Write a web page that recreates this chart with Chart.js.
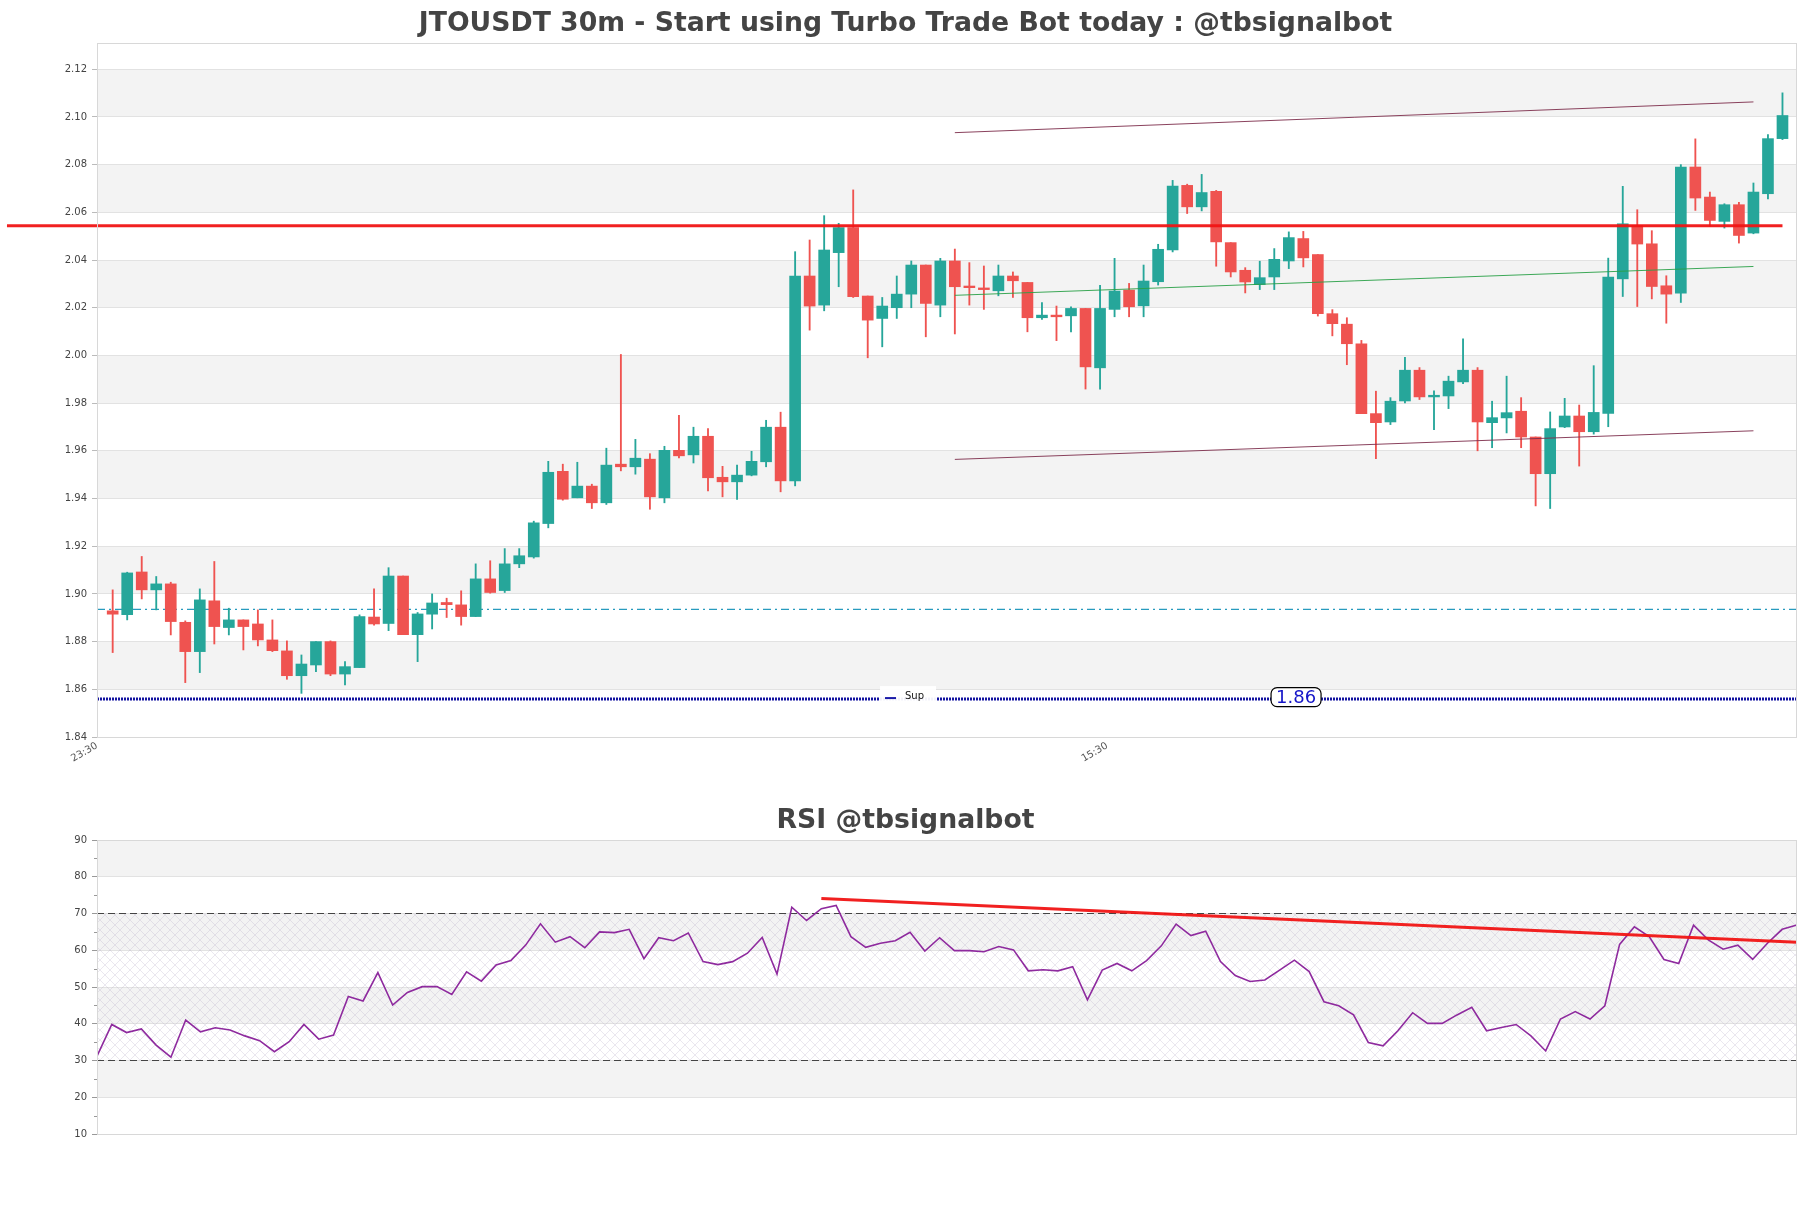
<!DOCTYPE html>
<html><head><meta charset="utf-8">
<script src="https://cdn.jsdelivr.net/npm/chart.js@4.4.1/dist/chart.umd.min.js"></script>
<style>
html,body{margin:0;padding:0;background:#fff;}
#wrap{position:relative;width:1811px;height:1208px;background:#fff;}
canvas{position:absolute;left:0;}
</style></head><body>
<div id="wrap">
<canvas id="main" width="1811" height="790" style="top:0px"></canvas>
<canvas id="rsi" width="1811" height="418" style="top:790px"></canvas>
</div>
<script>
// ---------------- DATA ----------------
const chartTitle = 'JTOUSDT 30m - Start using Turbo Trade Bot today : @tbsignalbot';
const rsiTitle = 'RSI @tbsignalbot';

const opens = [1.8929,1.8913,1.9092,1.9017,1.9042,1.8881,1.8758,1.8971,1.8859,1.8891,1.8874,1.8807,1.8761,1.8657,1.8702,1.8800,1.8664,1.8691,1.8903,1.8876,
1.9075,1.8829,1.8915,1.8964,1.8954,1.8905,1.9063,1.9014,1.9126,1.9155,1.9295,1.9514,1.9403,1.9452,1.9382,1.9544,1.9533,1.9565,1.9403,1.9602,
1.9583,1.9661,1.9489,1.9470,1.9498,1.9554,1.9699,1.9474,2.0333,2.0211,2.0431,2.0536,2.0249,2.0155,2.0200,2.0257,2.0379,2.0211,2.0396,2.0291,
2.0283,2.0271,2.0333,2.0306,2.0158,2.0169,2.0166,2.0197,1.9948,2.0193,2.0274,2.0208,2.0309,2.0442,2.0713,2.0623,2.0688,2.0473,2.0357,2.0297,
2.0329,2.0396,2.0490,2.0423,2.0175,2.0131,2.0049,1.9756,1.9721,1.9809,1.9938,1.9826,1.9830,1.9889,1.9938,1.9718,1.9738,1.9766,1.9658,1.9504,
1.9700,1.9746,1.9680,1.9757,2.0321,2.0545,2.0468,2.0292,2.0261,2.0790,2.0664,2.0562,2.0632,2.0513,2.0678,2.0909];
const highs = [1.9017,1.9091,1.9157,1.9073,1.9049,1.8887,1.9021,1.9136,1.8940,1.8891,1.8933,1.8891,1.8803,1.8744,1.8800,1.8803,1.8716,1.8912,1.9021,1.9110,
1.9075,1.8922,1.9000,1.8982,1.9013,1.9126,1.9139,1.9190,1.9190,1.9305,1.9556,1.9544,1.9552,1.9460,1.9611,2.0004,1.9648,1.9588,1.9619,1.9749,
1.9699,1.9693,1.9535,1.9540,1.9598,1.9728,1.9762,2.0435,2.0484,2.0586,2.0554,2.0694,2.0249,2.0243,2.0333,2.0396,2.0379,2.0407,2.0446,2.0389,
2.0375,2.0379,2.0350,2.0306,2.0222,2.0207,2.0204,2.0197,2.0294,2.0407,2.0302,2.0379,2.0466,2.0734,2.0718,2.0759,2.0692,2.0473,2.0368,2.0395,
2.0448,2.0518,2.0520,2.0423,2.0192,2.0158,2.0063,1.9850,1.9823,1.9992,1.9949,1.9851,1.9913,2.0070,1.9949,1.9808,1.9913,1.9823,1.9658,1.9763,
1.9820,1.9792,1.9957,2.0408,2.0709,2.0611,2.0523,2.0334,2.0800,2.0908,2.0685,2.0636,2.0642,2.0723,2.0926,2.1101];
const lows = [1.8754,1.8891,1.8979,1.8933,1.8828,1.8628,1.8670,1.8790,1.8828,1.8765,1.8782,1.8758,1.8642,1.8583,1.8674,1.8657,1.8618,1.8691,1.8869,1.8846,
1.8829,1.8716,1.8853,1.8901,1.8869,1.8905,1.9003,1.9006,1.9110,1.9150,1.9277,1.9393,1.9403,1.9358,1.9375,1.9516,1.9502,1.9355,1.9382,1.9570,
1.9549,1.9432,1.9407,1.9396,1.9495,1.9533,1.9428,1.9453,2.0106,2.0187,2.0288,2.0243,1.9990,2.0036,2.0155,2.0200,2.0078,2.0162,2.0090,2.0211,
2.0193,2.0250,2.0243,2.0099,2.0151,2.0062,2.0099,1.9859,1.9859,2.0162,2.0162,2.0162,2.0295,2.0434,2.0595,2.0606,2.0374,2.0329,2.0262,2.0276,
2.0276,2.0364,2.0371,2.0165,2.0082,1.9961,1.9756,1.9567,1.9710,1.9801,1.9815,1.9689,1.9777,1.9882,1.9600,1.9613,1.9675,1.9613,1.9369,1.9358,
1.9697,1.9536,1.9670,1.9701,2.0247,2.0205,2.0237,2.0135,2.0222,2.0608,2.0541,2.0534,2.0471,2.0510,2.0656,2.0905];
const closes = [1.8915,1.9088,1.9017,1.9042,1.8884,1.8758,1.8975,1.8863,1.8891,1.8863,1.8807,1.8762,1.8657,1.8706,1.8800,1.8664,1.8695,1.8905,1.8874,1.9075,
1.8829,1.8916,1.8962,1.8955,1.8905,1.9063,1.9006,1.9126,1.9160,1.9298,1.9510,1.9397,1.9452,1.9382,1.9540,1.9533,1.9569,1.9407,1.9602,1.9579,
1.9661,1.9487,1.9470,1.9498,1.9556,1.9699,1.9474,2.0333,2.0207,2.0442,2.0536,2.0246,2.0148,2.0207,2.0257,2.0379,2.0218,2.0396,2.0288,2.0284,
2.0276,2.0333,2.0313,2.0158,2.0169,2.0162,2.0197,1.9952,2.0197,2.0270,2.0204,2.0312,2.0445,2.0710,2.0623,2.0683,2.0476,2.0350,2.0308,2.0326,
2.0403,2.0494,2.0409,2.0175,2.0133,2.0049,1.9756,1.9718,1.9808,1.9938,1.9826,1.9833,1.9892,1.9938,1.9721,1.9739,1.9760,1.9658,1.9504,1.9693,
1.9746,1.9680,1.9761,2.0328,2.0552,2.0467,2.0289,2.0257,2.0790,2.0660,2.0566,2.0632,2.0503,2.0685,2.0909,2.1006];

const rsiValues = [31.2,39.8,37.6,38.6,34.2,30.9,41.0,37.8,38.9,38.3,36.7,35.4,32.4,35.1,39.8,35.8,36.9,47.4,46.2,53.9,
45.1,48.5,50.1,50.1,48.0,54.1,51.6,56.0,57.2,61.4,67.2,62.2,63.7,60.7,65.0,64.8,65.7,57.7,63.4,62.6,
64.7,56.9,56.1,56.9,59.2,63.5,53.5,71.7,68.1,71.3,72.2,63.7,60.8,61.9,62.6,64.9,59.8,63.4,59.9,59.9,
59.6,61.0,60.1,54.4,54.7,54.4,55.5,46.5,54.6,56.4,54.4,57.2,61.2,67.1,64.0,65.2,56.9,53.1,51.5,51.9,
54.6,57.3,54.2,46.0,44.9,42.4,34.9,34.0,38.1,43.0,40.1,40.1,42.4,44.5,38.1,39.0,39.8,36.7,32.6,41.3,
43.3,41.3,44.9,61.6,66.4,63.7,57.5,56.4,66.8,62.8,60.3,61.4,57.5,61.9,65.7,66.9];

const xTickLabels = ['23:30', '15:30'];
const xTickValues = [-1.08, 68.5];

const resistanceLevel = 2.0544;          // thick red level
const resistanceFrom = -7.28, resistanceTo = 115;
const pivotLevel = 1.8935;               // dashed teal
const supportLevel = 1.8559;             // dotted blue "Sup"
const supportText = '1.86';
const channelX = [58, 113];
const channelUpper = [2.0934, 2.1063];
const channelMid = [2.0252, 2.0373];
const channelLower = [1.9564, 1.9684];
const rsiTrendX = [49, 115];
const rsiTrendY = [74.1, 62.2];
const rsiUpper = 70, rsiLower = 30;

// ---------------- STYLE ----------------
Chart.defaults.font.family = '"DejaVu Sans", "Liberation Sans", sans-serif';
Chart.defaults.color = '#444';
const GREEN = '#26a69a', RED = '#ef5350';
const BAND = '#f3f3f3', GRID = '#e2e2e2', FRAME = '#d8d8d8';

const idx = opens.map((_, i) => i);
const candleColors = idx.map(i => closes[i] >= opens[i] ? GREEN : RED);
const X_MIN = -1.08, X_MAX = 116;

function bandsPlugin(id, title, titleY) {
  return {
    id,
    beforeDraw(chart) {
      const {ctx, chartArea: a, scales: {y}} = chart;
      ctx.save();
      ctx.fillStyle = '#fff';
      ctx.fillRect(0, 0, chart.width, chart.height);
      const ticks = y.ticks.map(t => t.value);
      ctx.fillStyle = BAND;
      for (let k = 0; k < ticks.length - 1; k++) {
        if (k % 2 === 1) {
          const y0 = y.getPixelForValue(ticks[k]), y1 = y.getPixelForValue(ticks[k + 1]);
          ctx.fillRect(a.left, Math.min(y0, y1), a.right - a.left, Math.abs(y1 - y0));
        }
      }
      ctx.restore();
    },
    afterDraw(chart) {
      const {ctx, chartArea: a} = chart;
      ctx.save();
      ctx.strokeStyle = FRAME; ctx.lineWidth = 1;
      ctx.strokeRect(a.left + 0.5, a.top + 0.5, a.right - a.left - 1, a.bottom - a.top);
      ctx.fillStyle = '#444';
      ctx.font = 'bold 26.7px "DejaVu Sans"';
      ctx.textAlign = 'center'; ctx.textBaseline = 'middle';
      ctx.fillText(title, chart.width / 2, titleY);
      ctx.restore();
    }
  };
}

const overlayPlugin = {
  id: 'overlay',
  afterDatasetsDraw(chart) {
    const {ctx, chartArea: a, scales: {x, y}} = chart;
    const ys = y.getPixelForValue(supportLevel);
    ctx.save();
    const lx = a.left + (a.right - a.left) * 0.4606, ly = ys - 13;
    ctx.fillStyle = 'rgba(255,255,255,0.95)';
    ctx.fillRect(lx, ly, 56, 21);
    ctx.strokeStyle = '#1a1aa8'; ctx.lineWidth = 2;
    ctx.beginPath(); ctx.moveTo(lx + 5, ly + 12); ctx.lineTo(lx + 16, ly + 12); ctx.stroke();
    ctx.fillStyle = '#111'; ctx.font = '10px "DejaVu Sans"';
    ctx.textAlign = 'left'; ctx.textBaseline = 'middle';
    ctx.fillText('Sup', lx + 25, ly + 10);
    const cx = x.getPixelForValue(81.5), cy = ys - 2;
    const w = 50, h = 19, r = 6;
    ctx.beginPath();
    ctx.roundRect(cx - w / 2, cy - h / 2, w, h, r);
    ctx.fillStyle = '#fff'; ctx.fill();
    ctx.strokeStyle = '#000'; ctx.lineWidth = 1.2; ctx.stroke();
    ctx.fillStyle = '#1515c8'; ctx.font = '18px "DejaVu Sans"';
    ctx.textAlign = 'center';
    ctx.fillText(supportText, cx, cy + 1);
    ctx.restore();
  }
};

const hLine = (level, x0, x1) => [{x: x0, y: level}, {x: x1, y: level}];
const seg = (xs, ys) => [{x: xs[0], y: ys[0]}, {x: xs[1], y: ys[1]}];

new Chart(document.getElementById('main'), {
  type: 'bar',
  data: {
    datasets: [
      {type: 'line', data: hLine(pivotLevel, X_MIN, X_MAX), borderColor: 'rgb(40,155,190)', borderWidth: 1.3,
       borderDash: [8, 4, 2, 4], pointRadius: 0, order: 5},
      {type: 'line', data: hLine(supportLevel, X_MIN, X_MAX), borderColor: '#1212a0', borderWidth: 3,
       borderDash: [2, 1], pointRadius: 0, order: 5},
      {type: 'bar', data: idx.map(i => ({x: i, y: [lows[i], highs[i]]})), backgroundColor: candleColors,
       barThickness: 1.2, grouped: false, order: 3},
      {type: 'bar', data: idx.map(i => ({x: i, y: [opens[i], closes[i]]})), backgroundColor: candleColors,
       barThickness: 11, minBarLength: 1.5, grouped: false, order: 2},
      {type: 'line', data: seg(channelX, channelUpper), borderColor: 'rgba(125,45,75,0.9)', borderWidth: 1, pointRadius: 0, order: 1},
      {type: 'line', data: seg(channelX, channelLower), borderColor: 'rgba(125,45,75,0.9)', borderWidth: 1, pointRadius: 0, order: 1},
      {type: 'line', data: seg(channelX, channelMid), borderColor: 'rgba(40,160,70,0.9)', borderWidth: 1, pointRadius: 0, order: 1},
      {type: 'line', data: hLine(resistanceLevel, resistanceFrom, resistanceTo), borderColor: 'rgba(240,20,20,0.95)', borderWidth: 3,
       pointRadius: 0, clip: false, order: 0}
    ]
  },
  options: {
    responsive: false, animation: false, events: [], devicePixelRatio: 1,
    layout: {padding: {top: 43, right: 14, left: 0, bottom: 0}},
    plugins: {legend: {display: false}, tooltip: {enabled: false}, title: {display: false}},
    scales: {
      x: {
        type: 'linear', min: X_MIN, max: X_MAX, offset: false,
        grid: {display: false, drawTicks: false}, border: {display: false},
        afterBuildTicks: s => { s.ticks = xTickValues.map(v => ({value: v})); },
        ticks: {autoSkip: false, minRotation: 30, maxRotation: 30, padding: 3, color: '#555',
                font: {size: 10}, callback: (v) => { const k = xTickValues.indexOf(v); return k >= 0 ? xTickLabels[k] : ''; }},
        afterFit: s => { s.height = 53; }
      },
      y: {
        type: 'linear', min: 1.84, max: 2.131,
        grid: {color: GRID, tickLength: 5, tickColor: '#bbb', lineWidth: 1}, border: {display: false},
        ticks: {stepSize: 0.02, includeBounds: false, padding: 5, color: '#444', font: {size: 10},
                callback: v => v.toFixed(2)},
        afterFit: s => { s.width = 97; }
      }
    }
  },
  plugins: [bandsPlugin('bandsMain', chartTitle, 24), overlayPlugin]
});

// ---------------- RSI ----------------
const rsiDecor = {
  id: 'rsiDecor',
  beforeDatasetsDraw(chart) {
    const {ctx, chartArea: a, scales: {y}} = chart;
    const pc = document.createElement('canvas'); pc.width = 10; pc.height = 10;
    const g = pc.getContext('2d');
    g.strokeStyle = 'rgba(175,165,195,0.38)'; g.lineWidth = 0.7;
    g.beginPath(); g.moveTo(0, 0); g.lineTo(10, 10); g.moveTo(10, 0); g.lineTo(0, 10); g.stroke();
    const y0 = y.getPixelForValue(rsiUpper), y1 = y.getPixelForValue(rsiLower);
    ctx.save();
    ctx.fillStyle = ctx.createPattern(pc, 'repeat');
    ctx.fillRect(a.left, y0, a.right - a.left, y1 - y0);
    ctx.strokeStyle = '#999'; ctx.lineWidth = 1;
    for (let v = 15; v < 90; v += 10) {
      const py = Math.round(y.getPixelForValue(v)) + 0.5;
      ctx.beginPath(); ctx.moveTo(a.left - 3, py); ctx.lineTo(a.left, py); ctx.stroke();
    }
    ctx.restore();
  }
};

const rsiIdx = rsiValues.map((_, i) => i);
new Chart(document.getElementById('rsi'), {
  type: 'line',
  data: {
    datasets: [
      {data: hLine(rsiUpper, 0, rsiValues.length - 1), borderColor: '#444', borderWidth: 1.2, borderDash: [7, 4], pointRadius: 0, order: 3},
      {data: hLine(rsiLower, 0, rsiValues.length - 1), borderColor: '#444', borderWidth: 1.2, borderDash: [7, 4], pointRadius: 0, order: 3},
      {data: rsiIdx.map(i => ({x: i, y: rsiValues[i]})), borderColor: '#8e2a9e', borderWidth: 1.6, pointRadius: 0, tension: 0, order: 2},
      {data: seg(rsiTrendX, rsiTrendY), borderColor: 'rgba(240,20,20,0.95)', borderWidth: 3, pointRadius: 0, order: 1}
    ]
  },
  options: {
    responsive: false, animation: false, events: [], devicePixelRatio: 1,
    layout: {padding: {top: 50, right: 14, left: 0, bottom: 74}},
    plugins: {legend: {display: false}, tooltip: {enabled: false}, title: {display: false}},
    scales: {
      x: {type: 'linear', min: 0, max: rsiValues.length - 1, display: false},
      y: {
        type: 'linear', min: 10, max: 90,
        grid: {color: GRID, tickLength: 5, tickColor: '#999'}, border: {display: false},
        ticks: {stepSize: 10, padding: 5, color: '#444', font: {size: 10}},
        afterFit: s => { s.width = 97; }
      }
    }
  },
  plugins: [bandsPlugin('bandsRsi', rsiTitle, 31), rsiDecor]
});
</script>
</body></html>
